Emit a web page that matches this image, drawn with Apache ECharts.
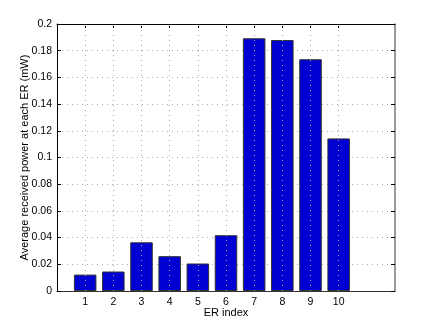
<!DOCTYPE html>
<html>
<head>
<meta charset="utf-8">
<script src="https://cdn.jsdelivr.net/npm/echarts@6/dist/echarts.min.js"></script>
<style>
  html, body { margin: 0; padding: 0; background: #fff; }
  #chart { width: 436px; height: 327px; }
</style>
</head>
<body>
<div id="chart"></div>
<script>
// ER index and average received power (mW)
var erIndex = [1, 2, 3, 4, 5, 6, 7, 8, 9, 10];
var avgPower = [0.0123, 0.0146, 0.0365, 0.0261, 0.0206, 0.0418, 0.1893, 0.188, 0.1736, 0.1143];
var yTicks = [0, 0.02, 0.04, 0.06, 0.08, 0.1, 0.12, 0.14, 0.16, 0.18, 0.2];

var FONT = 'Liberation Sans, Arial, sans-serif';

var barData = [];
for (var i = 0; i < erIndex.length; i++) {
  barData.push([erIndex[i], avgPower[i]]);
}
var vGrid = erIndex.map(function (x) { return { xAxis: x }; });

var xTick = { show: true, inside: true, length: 4, customValues: erIndex, lineStyle: { color: '#000' } };
var yTick = { show: true, inside: true, length: 4, lineStyle: { color: '#000' } };

var option = {
  animation: false,
  textStyle: { fontFamily: FONT },
  grid: { left: 57, right: 41, top: 24, bottom: 36, show: false },
  xAxis: [{
    type: 'value', min: 0, max: 12, interval: 1, position: 'bottom',
    name: 'ER index', nameLocation: 'middle', nameGap: 16, nameMoveOverlap: false,
    nameTextStyle: { fontSize: 11, color: '#000' },
    axisLine: { show: true, onZero: false, lineStyle: { color: '#333' } },
    axisTick: xTick,
    axisLabel: { fontSize: 10.5, color: '#000', margin: 6, customValues: erIndex },
    splitLine: { show: false }
  }, {
    type: 'value', min: 0, max: 12, interval: 1, position: 'top',
    axisLine: { show: true, onZero: false, lineStyle: { color: '#000' } },
    axisTick: xTick,
    axisLabel: { show: false },
    splitLine: { show: false }
  }],
  yAxis: [{
    type: 'value', min: 0, max: 0.2, interval: 0.02, position: 'left',
    name: 'Average received power at each ER (mW)', nameLocation: 'middle', nameGap: 27, nameMoveOverlap: false,
    nameTextStyle: { fontSize: 11, color: '#000' },
    axisLine: { show: true, onZero: false, lineStyle: { color: '#000' } },
    axisTick: yTick,
    axisLabel: { fontSize: 10.5, color: '#000', margin: 5,
      formatter: function (v) { return yTicks.indexOf(+v.toFixed(2)) >= 0 ? String(+v.toFixed(2)) : ''; } },
    splitLine: { show: true, lineStyle: { color: '#aaa', type: [1, 4], width: 1 } }
  }, {
    type: 'value', min: 0, max: 0.2, interval: 0.02, position: 'right',
    axisLine: { show: true, onZero: false, lineStyle: { color: '#777', width: 1.5 } },
    axisTick: yTick,
    axisLabel: { show: false },
    splitLine: { show: false }
  }],
  series: [{
    type: 'scatter', data: [], z: 1, silent: true,
    markLine: {
      symbol: 'none', silent: true, label: { show: false },
      lineStyle: { color: '#aaa', type: [1, 4], width: 1 },
      data: vGrid
    }
  }, {
    type: 'bar', data: barData, barWidth: '80%', z: 3,
    itemStyle: { color: '#0000d2', borderColor: '#333', borderWidth: 1 }
  }]
};

var myChart = echarts.init(document.getElementById('chart'));
myChart.setOption(option);
</script>
</body>
</html>
